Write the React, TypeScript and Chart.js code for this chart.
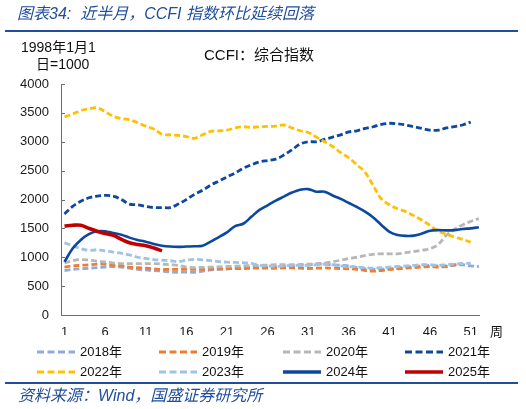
import React, { useEffect, useRef } from "react";
import { Chart, registerables } from "chart.js";
Chart.register(...registerables);

const xTickWeeks = [1, 6, 11, 16, 21, 26, 31, 36, 41, 46, 51];

const s2018 = [770,790,800,810,820,830,840,830,810,790,780,770,760,745,740,745,740,760,780,790,800,810,815,820,820,825,830,840,850,860,870,880,880,870,860,850,820,800,790,790,800,810,830,840,850,860,850,850,860,870,850,840];
const s2019 = [830,850,860,870,880,880,860,850,830,820,810,800,790,790,790,795,790,790,795,800,800,805,805,810,810,810,810,815,815,810,805,810,815,810,805,800,790,770,760,770,790,800,810,820,830,840,830,840,870,890];
const s2020 = [900,940,960,950,930,920,900,890,890,890,890,890,880,870,860,830,820,825,830,835,840,845,850,855,860,865,870,870,870,875,880,890,900,920,950,980,1000,1030,1050,1060,1060,1060,1080,1100,1120,1150,1220,1380,1480,1560,1620,1670];
const s2021 = [1750,1880,1970,2030,2060,2070,2060,2000,1920,1910,1880,1860,1860,1860,1920,2000,2090,2160,2250,2320,2390,2460,2540,2600,2650,2675,2700,2770,2860,2960,3000,3000,3040,3080,3120,3170,3190,3230,3260,3300,3320,3310,3290,3260,3230,3200,3200,3240,3260,3290,3340];
const s2022 = [3430,3480,3540,3570,3590,3520,3440,3400,3380,3330,3270,3220,3130,3120,3110,3090,3060,3120,3180,3190,3200,3240,3260,3250,3260,3265,3270,3290,3240,3190,3160,3080,3000,2920,2810,2720,2600,2470,2240,2010,1910,1840,1790,1720,1640,1550,1450,1400,1350,1310,1260];
const s2023 = [1250,1200,1150,1120,1130,1110,1090,1070,1040,1000,980,960,950,940,925,950,965,955,940,925,915,910,905,895,860,850,840,850,860,860,860,870,880,870,850,840,830,820,810,820,830,840,850,860,870,870,860,870,880,890,900];
const s2024 = [920,1150,1300,1400,1450,1450,1420,1390,1340,1300,1270,1230,1200,1185,1180,1185,1190,1200,1270,1350,1430,1540,1580,1700,1820,1900,1980,2050,2120,2170,2180,2135,2135,2070,2010,1940,1870,1790,1690,1560,1440,1385,1370,1375,1410,1460,1470,1465,1470,1490,1500,1520];
const s2025 = [1540,1555,1555,1500,1450,1410,1380,1310,1250,1220,1200,1160,1110];

const yTicks = [0, 500, 1000, 1500, 2000, 2500, 3000, 3500, 4000];

const C = {
  c2018: "#8FAADC",
  c2019: "#ED7D31",
  c2020: "#B7B7B7",
  c2021: "#0C48A0",
  c2022: "#FFC000",
  c2023: "#9DC3E6",
  c2024: "#0C48A0",
  c2025: "#C00000",
};

const legendItems = [
  { label: "2018年", color: C.c2018, dash: true },
  { label: "2019年", color: C.c2019, dash: true },
  { label: "2020年", color: C.c2020, dash: true },
  { label: "2021年", color: C.c2021, dash: true },
  { label: "2022年", color: C.c2022, dash: true },
  { label: "2023年", color: C.c2023, dash: true },
  { label: "2024年", color: C.c2024, dash: false },
  { label: "2025年", color: C.c2025, dash: false },
];

const FONT = '"Liberation Sans", Arial, "Noto Sans CJK SC", sans-serif';
const BLUE = "#1F4E9C";

const innerTicks = {
  id: "innerTicks",
  afterDraw(chart: any) {
    const { ctx, scales, chartArea } = chart;
    const y = scales.y;
    ctx.save();
    ctx.strokeStyle = "#6b6b6b";
    ctx.lineWidth = 1;
    y.ticks.forEach((_t: any, i: number) => {
      const py = Math.round(y.getPixelForTick(i)) + 0.5;
      ctx.beginPath();
      ctx.moveTo(chartArea.left, py);
      ctx.lineTo(chartArea.left + 4, py);
      ctx.stroke();
    });
    ctx.restore();
  },
};

function ds(label: string, values: number[], color: string, dash: boolean, width: number, order: number) {
  return {
    label,
    data: values.map((v, i) => ({ x: i + 1, y: v })),
    borderColor: color,
    backgroundColor: color,
    borderWidth: width,
    borderDash: dash ? [6, 3] : [],
    pointRadius: 0,
    tension: 0.35,
    fill: false,
    order,
  };
}

function ChartCanvas() {
  const ref = useRef<HTMLCanvasElement | null>(null);
  useEffect(() => {
    if (!ref.current) return;
    const chart = new Chart(ref.current, {
      type: "line",
      data: {
        datasets: [
          ds("2018年", s2018, C.c2018, true, 2.8, 7),
          ds("2019年", s2019, C.c2019, true, 2.8, 6),
          ds("2020年", s2020, C.c2020, true, 2.8, 5),
          ds("2021年", s2021, C.c2021, true, 2.8, 3),
          ds("2022年", s2022, C.c2022, true, 2.8, 2),
          ds("2023年", s2023, C.c2023, true, 2.8, 4),
          ds("2024年", s2024, C.c2024, false, 2.6, 1),
          ds("2025年", s2025, C.c2025, false, 3.6, 0),
        ] as any,
      },
      options: {
        responsive: false,
        animation: false,
        devicePixelRatio: 1,
        layout: { padding: { left: 0, top: 84, right: 47, bottom: 74 } },
        plugins: { legend: { display: false }, tooltip: { enabled: false }, title: { display: false } },
        scales: {
          x: {
            type: "linear",
            min: 0.57,
            max: 52.02,
            afterBuildTicks: (s: any) => { s.ticks = xTickWeeks.map((v) => ({ value: v })); },
            grid: { display: true, drawOnChartArea: false, drawTicks: false },
            border: { display: true, color: "#6b6b6b", width: 1 },
            afterFit: (s: any) => { s.height = 20; },
            ticks: {
              autoSkip: false,
              maxRotation: 0,
              minRotation: 0,
              padding: 10,
              color: "#1a1a1a",
              font: { family: FONT, size: 13 },
              callback: (v: any) => String(v),
            },
          },
          y: {
            min: yTicks[0],
            max: yTicks[yTicks.length - 1],
            afterBuildTicks: (s: any) => { s.ticks = yTicks.map((v) => ({ value: v })); },
            afterFit: (s: any) => { s.width = 61; },
            grid: { display: true, drawOnChartArea: false, drawTicks: false },
            border: { display: true, color: "#6b6b6b", width: 1 },
            ticks: {
              padding: 12,
              color: "#1a1a1a",
              font: { family: FONT, size: 13 },
              callback: (v: any) => String(v),
            },
          },
        },
      } as any,
      plugins: [innerTicks],
    });
    return () => chart.destroy();
  }, []);
  return <canvas ref={ref} width={526} height={409} style={{ position: "absolute", left: 0, top: 0, width: 526, height: 409 }} />;
}

const colX = [37, 159, 283, 405];

export default function App() {
  return (
    <div style={{ position: "fixed", left: 0, top: 0, width: 526, height: 409, background: "#fff", fontFamily: FONT, overflow: "hidden" }}>
      <ChartCanvas />
      <div style={{ position: "absolute", left: 17, top: 4, fontSize: 16, lineHeight: "20px", fontStyle: "italic", color: BLUE, whiteSpace: "nowrap" }}>
        图表34:&nbsp; 近半月，CCFI 指数环比延续回落
      </div>
      <div style={{ position: "absolute", left: 5, top: 30, width: 513, height: 2, background: BLUE }} />
      <div style={{ position: "absolute", left: 21, top: 38, fontSize: 14, lineHeight: "18px", color: "#111", whiteSpace: "nowrap" }}>1998年1月1</div>
      <div style={{ position: "absolute", left: 36, top: 55, fontSize: 14, lineHeight: "18px", color: "#111", whiteSpace: "nowrap" }}>日=1000</div>
      <div style={{ position: "absolute", left: 204, top: 45, fontSize: 15, lineHeight: "19px", color: "#111", whiteSpace: "nowrap" }}>CCFI：综合指数</div>
      <div style={{ position: "absolute", left: 490, top: 324, fontSize: 13, lineHeight: "16px", color: "#111" }}>周</div>
      {legendItems.map((it, i) => {
        const col = i % 4;
        const row = Math.floor(i / 4);
        const cy = row === 0 ? 352 : 372;
        return (
          <div key={it.label} style={{ position: "absolute", left: colX[col], top: cy - 9, height: 18, display: "flex", alignItems: "center", whiteSpace: "nowrap" }}>
            <svg width={40} height={6} style={{ display: "block" }}>
              <line x1={0} y1={3} x2={38} y2={3} stroke={it.color} strokeWidth={it.dash ? 3 : 3.5} strokeDasharray={it.dash ? "7 3.5" : undefined} />
            </svg>
            <span style={{ marginLeft: 3, fontSize: 13, color: "#111", lineHeight: "18px" }}>{it.label}</span>
          </div>
        );
      })}
      <div style={{ position: "absolute", left: 5, top: 382, width: 513, height: 2, background: BLUE }} />
      <div style={{ position: "absolute", left: 18, top: 386, fontSize: 16, lineHeight: "20px", fontStyle: "italic", color: BLUE, whiteSpace: "nowrap" }}>
        资料来源：Wind，国盛证券研究所
      </div>
    </div>
  );
}
